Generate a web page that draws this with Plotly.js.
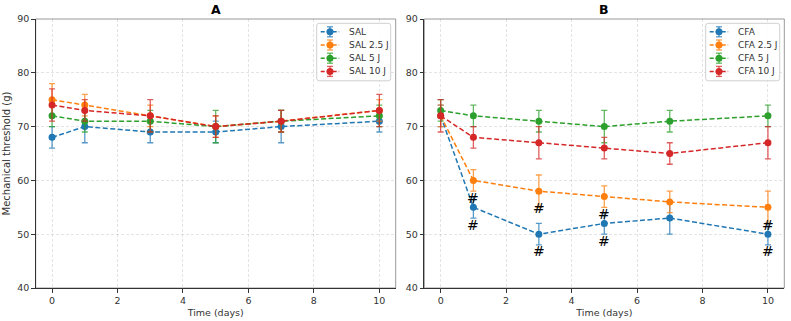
<!DOCTYPE html>
<html>
<head>
<meta charset="utf-8">
<script src="https://cdn.plot.ly/plotly-3.0.1.min.js"></script>
<style>html,body{margin:0;padding:0;background:#fff;}#chart{width:791px;height:321px;}</style>
</head>
<body>
<div id="chart"></div>
<script>
const days = [0, 1, 3, 5, 7, 10];
const colors = ['#1f77b4', '#ff7f0e', '#2ca02c', '#d62728'];

const salNames = ['SAL', 'SAL 2.5 J', 'SAL 5 J', 'SAL 10 J'];
const sal = [68, 70, 69, 69, 70, 71];
const salErr = [2, 3, 2, 2, 3, 2];
const sal25 = [75, 74, 72, 70, 71, 73];
const sal25Err = [3, 2, 2, 2, 2, 2];
const sal5 = [72, 71, 71, 70, 71, 72];
const sal5Err = [2, 2, 2, 3, 2, 2];
const sal10 = [74, 73, 72, 70, 71, 73];
const sal10Err = [3, 2, 3, 2, 2, 3];

const cfaNames = ['CFA', 'CFA 2.5 J', 'CFA 5 J', 'CFA 10 J'];
const cfa = [72, 55, 50, 52, 53, 50];
const cfaErr = [2, 2, 2, 2, 3, 2];
const cfa25 = [72, 60, 58, 57, 56, 55];
const cfa25Err = [2, 2, 3, 2, 2, 3];
const cfa5 = [73, 72, 71, 70, 71, 72];
const cfa5Err = [2, 2, 2, 3, 2, 2];
const cfa10 = [72, 68, 67, 66, 65, 67];
const cfa10Err = [3, 2, 3, 2, 2, 3];

// significance marks (#) on CFA and CFA 2.5 J
const hashDays = [1, 3, 5, 10];
const hashOffset = 3.2;

const W = 791, H = 321;
const DASH = '5px,2.5px';

function rgba(hex, a) {
  const r = parseInt(hex.slice(1,3),16), g = parseInt(hex.slice(3,5),16), b = parseInt(hex.slice(5,7),16);
  return `rgba(${r},${g},${b},${a})`;
}

function mk(name, y, err, i, xa, ya) {
  return {
    x: days, y: y, name: name, type: 'scatter', mode: 'lines+markers',
    xaxis: xa, yaxis: ya, showlegend: false,
    line: {color: colors[i], width: 1.5, dash: DASH},
    marker: {color: colors[i], size: 7},
    error_y: {type: 'data', array: err, visible: true, color: rgba(colors[i], 0.75), thickness: 1.3, width: 3}
  };
}

const traces = [
  mk(salNames[0], sal, salErr, 0, 'x', 'y'),
  mk(salNames[1], sal25, sal25Err, 1, 'x', 'y'),
  mk(salNames[2], sal5, sal5Err, 2, 'x', 'y'),
  mk(salNames[3], sal10, sal10Err, 3, 'x', 'y'),
  mk(cfaNames[0], cfa, cfaErr, 0, 'x2', 'y2'),
  mk(cfaNames[1], cfa25, cfa25Err, 1, 'x2', 'y2'),
  mk(cfaNames[2], cfa5, cfa5Err, 2, 'x2', 'y2'),
  mk(cfaNames[3], cfa10, cfa10Err, 3, 'x2', 'y2')
];

const annotations = [];
const shapes = [
  {type: 'rect', xref: 'x domain', yref: 'y domain', x0: 0, x1: 1, y0: 0, y1: 1, line: {color: '#999', width: 1}, layer: 'below'},
  {type: 'rect', xref: 'x2 domain', yref: 'y2 domain', x0: 0, x1: 1, y0: 0, y1: 1, line: {color: '#999', width: 1}, layer: 'below'}
];

[cfa, cfa25].forEach(series => {
  hashDays.forEach(d => {
    const idx = days.indexOf(d);
    annotations.push({
      x: d, y: series[idx] - hashOffset, xref: 'x2', yref: 'y2', text: '#', showarrow: false,
      font: {family: 'DejaVu Sans', size: 14, color: '#000'}, xanchor: 'center', yanchor: 'middle'
    });
  });
});
annotations.push({text: '<b>A</b>', xref: 'x domain', yref: 'paper', x: 0.5, y: 1 - 9/H, showarrow: false,
  font: {family: 'DejaVu Sans', size: 12.5, color: '#000'}, xanchor: 'center', yanchor: 'middle'});
annotations.push({text: '<b>B</b>', xref: 'x2 domain', yref: 'paper', x: 0.5, y: 1 - 9/H, showarrow: false,
  font: {family: 'DejaVu Sans', size: 12.5, color: '#000'}, xanchor: 'center', yanchor: 'middle'});

// matplotlib-style legend box drawn in paper space
function px(x) { return x / W; }
function py(y) { return 1 - y / H; }
function legendBox(left, top, names) {
  const w = 74, h = 57.5, r = 2.5;
  const L = left, R = left + w, T = top, B = top + h;
  const path = `M ${px(L + r)} ${py(T)} L ${px(R - r)} ${py(T)} Q ${px(R)} ${py(T)} ${px(R)} ${py(T + r)} ` +
    `L ${px(R)} ${py(B - r)} Q ${px(R)} ${py(B)} ${px(R - r)} ${py(B)} L ${px(L + r)} ${py(B)} ` +
    `Q ${px(L)} ${py(B)} ${px(L)} ${py(B - r)} L ${px(L)} ${py(T + r)} Q ${px(L)} ${py(T)} ${px(L + r)} ${py(T)} Z`;
  shapes.push({type: 'path', xref: 'paper', yref: 'paper', path: path,
    fillcolor: 'rgba(255,255,255,0.85)', line: {color: '#d0d0d0', width: 1}, layer: 'above'});
  names.forEach((nm, i) => {
    const cy = top + 8.5 + i * 13.2;
    const mx = left + 13.3;
    shapes.push({type: 'line', xref: 'paper', yref: 'paper', x0: px(left + 4), x1: px(left + 22.5), y0: py(cy), y1: py(cy),
      line: {color: colors[i], width: 1.5, dash: '4px,2px'}});
    const ec = rgba(colors[i], 0.75);
    shapes.push({type: 'line', xref: 'paper', yref: 'paper', x0: px(mx), x1: px(mx), y0: py(cy - 5), y1: py(cy + 5),
      line: {color: ec, width: 1.3}});
    shapes.push({type: 'line', xref: 'paper', yref: 'paper', x0: px(mx - 3), x1: px(mx + 3), y0: py(cy - 5), y1: py(cy - 5),
      line: {color: ec, width: 1.3}});
    shapes.push({type: 'line', xref: 'paper', yref: 'paper', x0: px(mx - 3), x1: px(mx + 3), y0: py(cy + 5), y1: py(cy + 5),
      line: {color: ec, width: 1.3}});
    shapes.push({type: 'circle', xref: 'paper', yref: 'paper', x0: px(mx - 3.5), x1: px(mx + 3.5), y0: py(cy - 3.5), y1: py(cy + 3.5),
      fillcolor: colors[i], line: {width: 0}});
    annotations.push({text: nm, xref: 'paper', yref: 'paper', x: px(left + 30), y: py(cy), xanchor: 'left', yanchor: 'middle',
      showarrow: false, font: {family: 'DejaVu Sans', size: 9, color: '#333'}});
  });
}
legendBox(316.7, 23.3, salNames);
legendBox(705.7, 23.3, cfaNames);

const xTicks = [0, 2, 4, 6, 8, 10];
const yTicks = [40, 50, 60, 70, 80, 90];
const tickFont = {family: 'DejaVu Sans', size: 9.5, color: '#333'};

function xax(dom, anchor) {
  return {
    domain: dom, anchor: anchor, range: [-0.5, 10.5], tickvals: xTicks, ticks: 'outside', ticklen: 3.5, tickcolor: '#333',
    showline: true, linecolor: '#333', linewidth: 1, zeroline: false,
    showgrid: true, gridcolor: 'rgba(0,0,0,0.13)', griddash: '3px,2px', gridwidth: 0.8,
    tickfont: tickFont,
    title: {text: 'Time (days)', font: {family: 'DejaVu Sans', size: 9.5, color: '#333'}, standoff: 4}
  };
}
function yax(anchor, title) {
  const o = {
    domain: [33/H, 1 - 19/H], range: [40, 90], tickvals: yTicks, ticks: 'outside', ticklen: 3.5, tickcolor: '#333',
    showline: true, linecolor: '#333', linewidth: 1, zeroline: false, anchor: anchor,
    showgrid: true, gridcolor: 'rgba(0,0,0,0.13)', griddash: '3px,2px', gridwidth: 0.8,
    tickfont: tickFont
  };
  if (title) o.title = {text: title, font: {family: 'DejaVu Sans', size: 10, color: '#333'}, standoff: 4};
  return o;
}

const layout = {
  width: W, height: H,
  margin: {l: 0, r: 0, t: 0, b: 0},
  paper_bgcolor: '#fff', plot_bgcolor: '#fff',
  showlegend: false,
  xaxis: xax([35.7/W, 395.7/W], 'y'),
  yaxis: yax('x', 'Mechanical threshold (g)'),
  xaxis2: xax([424.3/W, 784.3/W], 'y2'),
  yaxis2: yax('x2', null),
  annotations: annotations,
  shapes: shapes
};

Plotly.newPlot('chart', traces, layout, {staticPlot: true, displayModeBar: false});
</script>
</body>
</html>
